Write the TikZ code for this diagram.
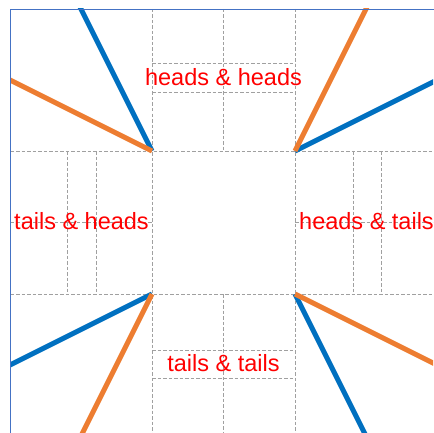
\documentclass[tikz,border=0pt]{standalone}
\usepackage{fontspec}
\setmainfont{Liberation Sans}
\definecolor{lnblue}{HTML}{0070C0}
\definecolor{lnorange}{HTML}{ED7D31}
\definecolor{framecol}{HTML}{4472C4}
\definecolor{gridcol}{HTML}{A0A0A0}
\tikzset{
  gridline/.style={draw=gridcol, line width=0.9pt, dash pattern=on 3.5pt off 2pt},
  bluestroke/.style={draw=lnblue, line width=5pt},
  orangestroke/.style={draw=lnorange, line width=5pt},
  lbl/.style={text=red, font=\fontsize{23.5}{28}\selectfont, inner sep=0pt, anchor=center}
}
\begin{document}
\begin{tikzpicture}[x=1pt, y=-1pt]
\useasboundingbox (0,0) rectangle (433,433);
\begin{scope}
\clip (10.7,9) rectangle (433,433);
% main grid
\draw[gridline] (10.7,151) -- (433,151);
\draw[gridline] (10.7,294) -- (433,294);
\draw[gridline] (152,9) -- (152,433);
\draw[gridline] (295,9) -- (295,433);
% top cell
\draw[gridline] (223.5,9) -- (223.5,151);
\draw[gridline] (152,63.5) -- (295,63.5);
\draw[gridline] (152,92.5) -- (295,92.5);
% bottom cell
\draw[gridline] (223.5,294) -- (223.5,433);
\draw[gridline] (152,350) -- (295,350);
\draw[gridline] (152,378) -- (295,378);
% left cell
\draw[gridline] (10.7,222) -- (152,222);
\draw[gridline] (67,151) -- (67,294);
\draw[gridline] (96,151) -- (96,294);
% right cell
\draw[gridline] (295,222) -- (433,222);
\draw[gridline] (353,151) -- (353,294);
\draw[gridline] (381.5,151) -- (381.5,294);
% corners
\coordinate (tl) at (152,151);
\coordinate (tr) at (295,151);
\coordinate (bl) at (152,294);
\coordinate (br) at (295,294);
\coordinate (tlb) at (72,-9);
\coordinate (tlo) at (-8,71);
\coordinate (trb) at (455,71);
\coordinate (tro) at (375,-9);
\coordinate (blb) at (-8,374);
\coordinate (blo) at (72,454);
\coordinate (brb) at (375,454);
\coordinate (bro) at (455,374);
\draw[bluestroke] (tl) -- (tlb);
\draw[bluestroke] (tr) -- (trb);
\draw[bluestroke] (bl) -- (blb);
\draw[bluestroke] (br) -- (brb);
\draw[orangestroke] (tl) -- (tlo);
\draw[orangestroke] (tr) -- (tro);
\draw[orangestroke] (bl) -- (blo);
\draw[orangestroke] (br) -- (bro);
% labels
\node[lbl] (hh) at (223.5,77) {heads \& heads};
\node[lbl] (tt) at (223.5,363.5) {tails \& tails};
\node[lbl] (th) at (81.5,221.5) {tails \& heads};
\node[lbl] (ht) at (366.5,221.5) {heads \& tails};
\end{scope}
% frame
\draw[framecol, line width=0.9pt] (10.7,440) -- (10.7,9) -- (440,9);
\end{tikzpicture}
\end{document}
